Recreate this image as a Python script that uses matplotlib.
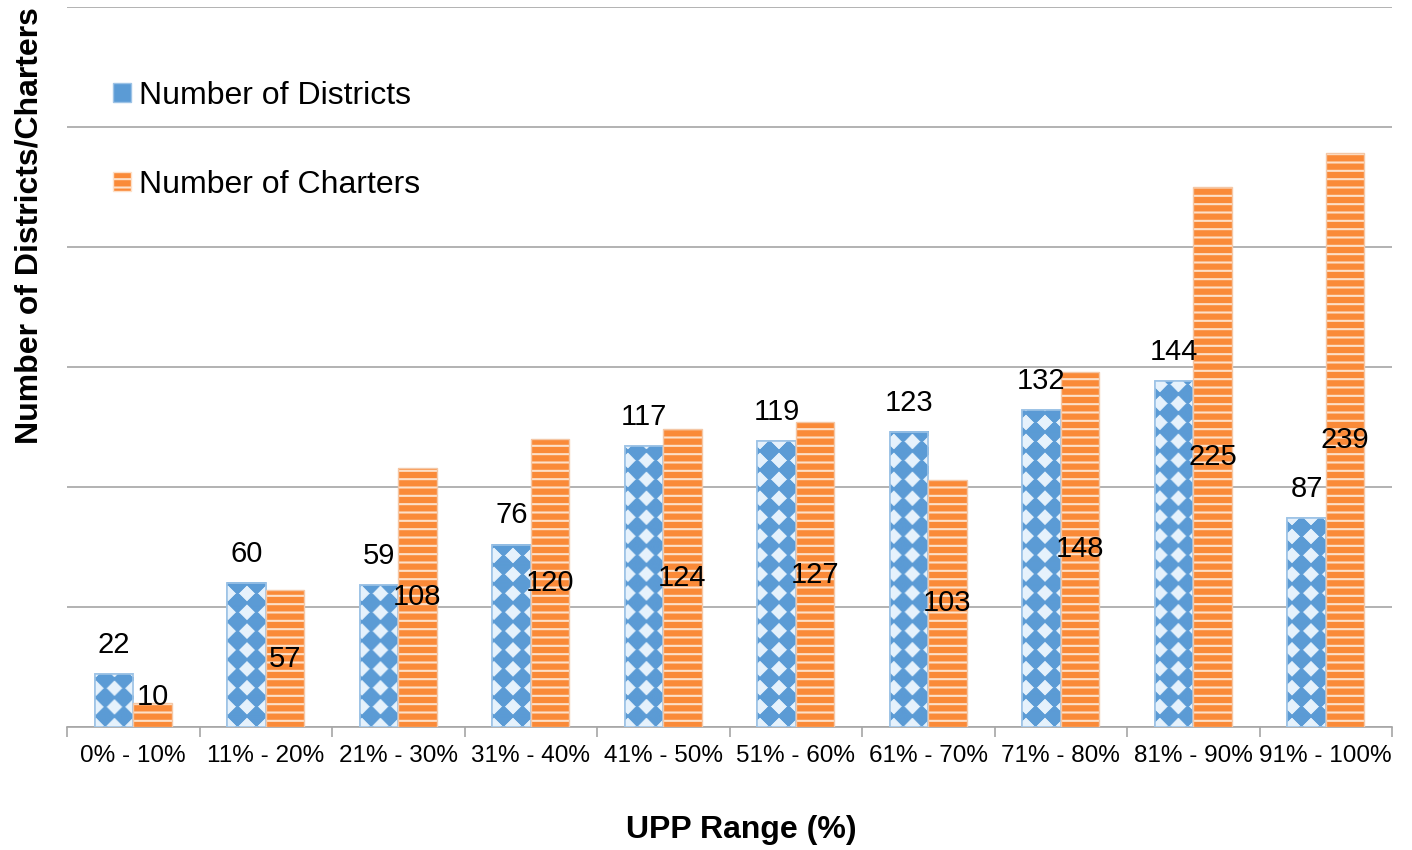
import matplotlib
matplotlib.use("Agg")
import matplotlib.pyplot as plt
from matplotlib.patches import Patch
import numpy as np

plt.rcParams['font.family'] = ['Liberation Sans', 'DejaVu Sans']
plt.rcParams['hatch.linewidth'] = 1.5

# Данные
ranges = ["0% - 10%", "11% - 20%", "21% - 30%", "31% - 40%", "41% - 50%",
          "51% - 60%", "61% - 70%", "71% - 80%", "81% - 90%", "91% - 100%"]
districts = [22, 60, 59, 76, 117, 119, 123, 132, 144, 87]
charters = [10, 57, 108, 120, 124, 127, 103, 148, 225, 239]

blue = "#5B9BD5"
light_blue = "#E6F2FC"
orange = "#FA8A38"

fig = plt.figure(figsize=(14.12, 8.5), dpi=100)
ax = fig.add_axes([67 / 1412, 1 - 727 / 850, (1392 - 67) / 1412, 720 / 850])
ax.set_xlim(-0.5, len(ranges) - 0.5)
ax.set_ylim(0, 300)

x = np.arange(len(ranges))
w = 0.29

# Районы: столбцы + текстура из ромбов
b1 = ax.bar(x - w / 2, districts, w, color=blue, edgecolor="#9DC3E6",
            linewidth=1.2, zorder=3)

c1 = np.array(matplotlib.colors.to_rgb(blue))
c2 = np.array(matplotlib.colors.to_rgb(light_blue))
cell = 19.0
for p in b1:
    x0, y0 = p.get_x(), p.get_y()
    x1, y1 = x0 + p.get_width(), y0 + p.get_height()
    (px0, py0), (px1, py1) = ax.transData.transform([(x0, y0), (x1, y1)])
    u = np.arange(int(px0), int(px1) + 1) + 0.5
    v = np.arange(int(py0), int(py1) + 1) + 0.5
    U, V = np.meshgrid(u, v)
    a = (U + V) / cell
    b = (U - V) / cell
    par = (np.floor(a) + np.floor(b)) % 2
    d = np.maximum(np.abs(a % 1 - 0.5), np.abs(b % 1 - 0.5))
    m = (par == 1) * np.clip((0.42 - d) / 0.06 + 0.5, 0, 1)
    img = c1 * (1 - m[..., None]) + c2 * m[..., None]
    ax.imshow(img, extent=(x0, x1, y0, y1), origin="lower", aspect="auto",
              interpolation="bilinear", clip_path=p, zorder=3.5)
ax.bar(x - w / 2, districts, w, fill=False, edgecolor="#9DC3E6", linewidth=1.2, zorder=4)

# Чартеры: оранжевые полосы
b2 = ax.bar(x + w / 2, charters, w, color=orange, edgecolor="#FDE0C8", hatch="--",
            linewidth=0, zorder=3)
ax.bar(x + w / 2, charters, w, fill=False, edgecolor="#F4C7A6", linewidth=1.0, zorder=4)

# Подписи
for xi, v in zip(x, districts):
    ax.annotate(str(v), (xi - w / 2, v), xytext=(0, 21), textcoords="offset points",
                ha="center", va="center", fontsize=21, zorder=5)
for xi, v in zip(x, charters):
    ax.text(xi + w / 2, max(v / 2, 12.5), str(v), ha="center", va="center",
            fontsize=21, zorder=5)

ax.set_xlim(-0.5, len(ranges) - 0.5)
ax.set_ylim(0, 300)
ax.set_yticks(np.arange(0, 301, 50))
ax.yaxis.grid(True, color="#A6A6A6", linewidth=1.2, zorder=0)
ax.tick_params(axis="y", left=False, labelleft=False)
ax.set_xticks(x)
ax.set_xticklabels(ranges, fontsize=17.5)
ax.tick_params(axis="x", which="major", length=0, pad=13)
ax.set_xticks(np.arange(-0.5, len(ranges)), minor=True)
ax.tick_params(axis="x", which="minor", length=7, color="#A6A6A6", width=1.2)
for s in ["left", "right", "top"]:
    ax.spines[s].set_visible(False)
ax.spines["bottom"].set_color("#A6A6A6")
ax.spines["bottom"].set_linewidth(1.2)

fig.text(741 / 1412, 1 - 830 / 850, "UPP Range (%)", ha="center", va="center",
         fontsize=23, fontweight="bold")
fig.text(30 / 1412, 1 - 226 / 850, "Number of Districts/Charters", ha="center",
         va="center", rotation=90, fontsize=23, fontweight="bold")

handles = [Patch(facecolor=blue, edgecolor="#9DC3E6", label="Number of Districts"),
           Patch(facecolor=orange, edgecolor="#FDE0C8", hatch="--", label="Number of Charters")]
fig.legend(handles=handles, loc="upper left", bbox_to_anchor=(113 / 1412, 1 - 81 / 850),
           frameon=False, fontsize=23, borderpad=0, borderaxespad=0,
           handlelength=0.55, handleheight=0.55, handletextpad=0.25, labelspacing=1.85)

fig.savefig("out.png", dpi=100)
